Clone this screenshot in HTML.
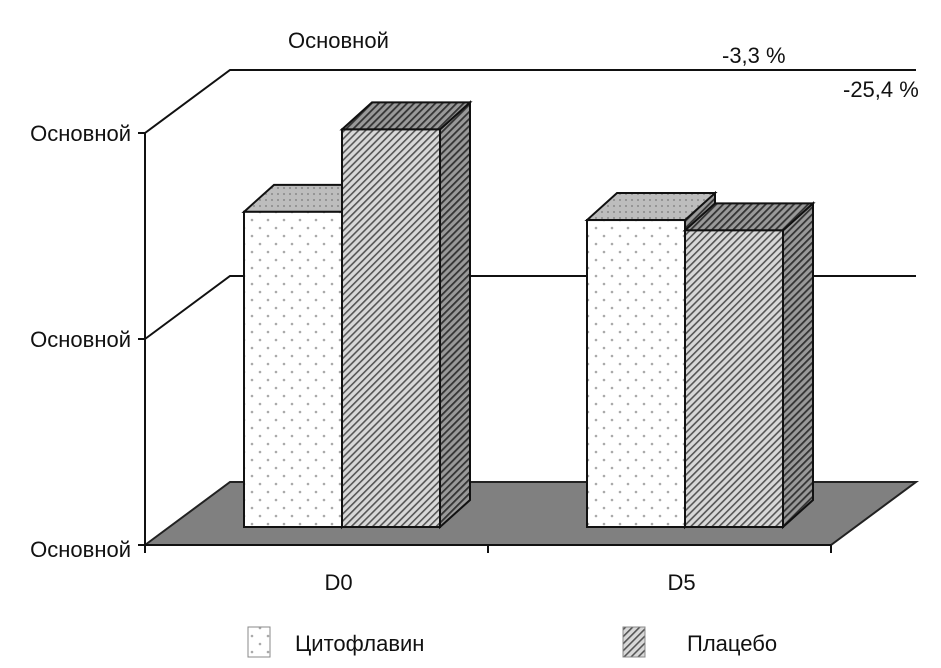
<!DOCTYPE html>
<html><head><meta charset="utf-8"><style>
html,body{margin:0;padding:0;background:#fff;width:941px;height:668px;overflow:hidden}
svg text{font-family:"Liberation Sans Narrow","Liberation Sans",sans-serif;fill:#111}
</style></head><body>
<svg id="chart" width="941" height="668" viewBox="0 0 941 668" xmlns="http://www.w3.org/2000/svg">
<defs>
<pattern id="dots" width="16" height="16" patternUnits="userSpaceOnUse"><rect width="16" height="16" fill="#fff"/><circle cx="4" cy="4" r="1.3" fill="#aaa"/><circle cx="12" cy="12" r="1.3" fill="#aaa"/></pattern>
<pattern id="dotsTop" width="6" height="6" patternUnits="userSpaceOnUse"><rect width="6" height="6" fill="#bdbdbd"/><circle cx="2" cy="2" r="1" fill="#888"/></pattern>
<pattern id="hatch" width="5" height="5" patternUnits="userSpaceOnUse" patternTransform="rotate(45)"><rect width="5" height="5" fill="#d8d8d8"/><rect width="1.6" height="5" fill="#555"/></pattern>
<pattern id="hatchDark" width="5" height="5" patternUnits="userSpaceOnUse" patternTransform="rotate(45)"><rect width="5" height="5" fill="#999"/><rect width="1.8" height="5" fill="#333"/></pattern>
</defs>
<g id="plot"></g>
</svg>
<script>
const categories = ["D0", "D5"];
const seriesNames = ["Цитофлавин", "Плацебо"];
const cytoflavin = [1.53, 1.49];
const placebo = [1.93, 1.44];
const yTicks = [0, 1, 2];
const yTickLabels = ["Основной", "Основной", "Основной"];

const svg = document.getElementById('plot');
const NS = 'http://www.w3.org/2000/svg';
function mk(tag, attrs, name, parent) {
  const e = document.createElementNS(NS, tag);
  for (const k in attrs) e.setAttribute(k, attrs[k]);
  
  
  (parent || svg).appendChild(e);
  return e;
}
const X0 = 145, X1 = 831, Y0 = 545, UNIT = 206;
const DX = 85, DY = -63;
function y(v) { return Y0 - v * UNIT; }
const bandW = (X1 - X0) / categories.length;

mk('polygon', {points:`${X0},${Y0} ${X0+DX},${Y0+DY} ${X1+DX},${Y0+DY} ${X1},${Y0}`, fill:'#808080', stroke:'#222','stroke-width':2}, 'floor');
yTicks.forEach((t,i) => {
  if (t === 0) return;
  mk('polyline', {points:`${X0},${y(t)} ${X0+DX},${y(t)+DY} ${X1+DX},${y(t)+DY}`, fill:'none', stroke:'#111','stroke-width':2}, 'gridline');
});
mk('line', {x1:X0,y1:y(0),x2:X0,y2:y(yTicks[yTicks.length-1]),stroke:'#111','stroke-width':2}, 'y-axis');
yTicks.forEach((t,i) => {
  mk('line', {x1:X0-7,y1:y(t),x2:X0,y2:y(t),stroke:'#111','stroke-width':2}, 'y-tick');
  const tx = mk('text', {x:X0-14, y:y(t)+(i===0?12:8), 'text-anchor':'end','font-size':22}, 'y-tick-label');
  tx.textContent = yTickLabels[i];
});
mk('line', {x1:X0,y1:Y0,x2:X1,y2:Y0,stroke:'#111','stroke-width':2}, 'x-axis');
for (let i = 0; i <= categories.length; i++) {
  mk('line', {x1:X0+i*bandW,y1:Y0,x2:X0+i*bandW,y2:Y0+8,stroke:'#111','stroke-width':2}, 'x-tick');
}
categories.forEach((c,i) => {
  const t = mk('text', {x:X0+bandW*(i+0.5)+22, y:590,'text-anchor':'middle','font-size':22}, 'x-category-label');
  t.textContent = c;
});
const BW = 98, bdx = 30, bdy = -27, shiftY = -18;
const series = [cytoflavin, placebo];
const fronts = ['url(#dots)','url(#hatch)'];
const tops = ['url(#dotsTop)','url(#hatchDark)'];
const sides = ['url(#hatchDark)','url(#hatchDark)'];
categories.forEach((c,i) => {
  const start = X0 + bandW*i + 99;
  series.forEach((s,j) => {
    const x = start + j*BW, base = Y0 + shiftY, top = y(s[i]) + shiftY;
    const g = mk('g', {}, `bar-${j===1?'placebo':'cytoflavin'}-${c.toLowerCase()}`);
    mk('polygon', {points:`${x+BW},${top} ${x+BW+bdx},${top+bdy} ${x+BW+bdx},${base+bdy} ${x+BW},${base}`, fill:sides[j], stroke:'#111','stroke-width':2}, 'bar-side', g);
    mk('polygon', {points:`${x},${top} ${x+bdx},${top+bdy} ${x+BW+bdx},${top+bdy} ${x+BW},${top}`, fill:tops[j], stroke:'#111','stroke-width':2}, 'bar-top', g);
    mk('rect', {x:x, y:top, width:BW, height:base-top, fill:fronts[j], stroke:'#111','stroke-width':2}, 'bar-front', g);
  });
});
function txt(x,yy,s,name,size,anchor){const t=mk('text',{x:x,y:yy,'font-size':size||22,'text-anchor':anchor||'start'},name);t.textContent=s;}
txt(288,48,'Основной','top-label');
txt(722,63,'-3,3 %','change-label-cytoflavin');
txt(843,97,'-25,4 %','change-label-placebo');
mk('rect',{x:248,y:627,width:22,height:30,fill:'url(#dots)',stroke:'#888','stroke-width':1},'legend-swatch-cytoflavin');
txt(295,651,'Цитофлавин','legend-label-cytoflavin');
mk('rect',{x:623,y:627,width:22,height:30,fill:'url(#hatch)',stroke:'#888','stroke-width':1},'legend-swatch-placebo');
txt(687,651,'Плацебо','legend-label-placebo');
</script>
</body></html>
